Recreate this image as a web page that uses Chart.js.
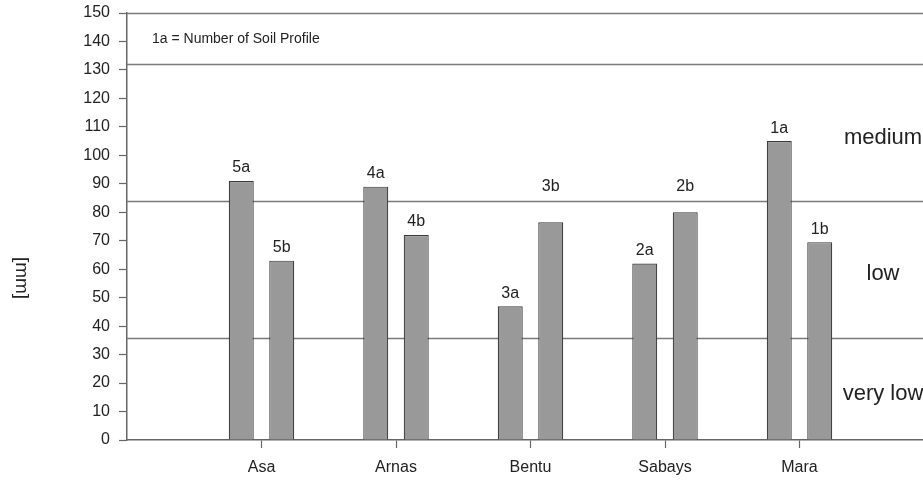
<!DOCTYPE html>
<html>
<head>
<meta charset="utf-8">
<script src="https://cdn.jsdelivr.net/npm/chart.js@4/dist/chart.umd.min.js"></script>
<style>
  html, body { margin: 0; padding: 0; background: #fff; overflow: hidden; }
  #wrap { width: 934px; height: 481px; }
</style>
</head>
<body>
<div id="wrap"><canvas id="c" width="934" height="481"></canvas></div>
<script>
// Study sites and their two soil profiles (a, b)
const sites = ['Asa', 'Arnas', 'Bentu', 'Sabays', 'Mara'];
const profilesA = ['5a', '4a', '3a', '2a', '1a'];
const profilesB = ['5b', '4b', '3b', '2b', '1b'];
const valuesA = [91, 89, 47, 62, 105];
const valuesB = [63, 72, 76.5, 80, 69.5];

// Class boundaries [mm] and class names
const classBreaks = [36, 84, 132];
const classNames = ['very low', 'low', 'medium'];
const yMin = 0, yMax = 150, yStep = 10;

const noteText = '1a = Number of Soil Profile';
const yTitle = '[mm]';

// category axis with an empty slot at each end
const axisLabels = [''].concat(sites, ['']);
const padded = arr => [null].concat(arr, [null]);

const FONT = '"Liberation Sans", Arial, Helvetica, sans-serif';
const TEXT = '#222';
const LINE = '#7a7a7a';
const AXIS = '#666';
const BAR_FILL = '#999999';
const BAR_EDGE = '#3a3a3a';

const overlay = {
  id: 'overlay',
  beforeDatasetsDraw(chart) {
    const { ctx, chartArea: a, scales: { y } } = chart;
    ctx.save();
    ctx.strokeStyle = LINE;
    ctx.lineWidth = 1.5;
    classBreaks.concat([yMax]).forEach(v => {
      const py = Math.round(y.getPixelForValue(v)) + 0.5;
      ctx.beginPath();
      ctx.moveTo(a.left, py);
      ctx.lineTo(a.right, py);
      ctx.stroke();
    });
    ctx.fillStyle = TEXT;
    // note in the top band
    ctx.font = '14px ' + FONT;
    ctx.textAlign = 'left';
    ctx.textBaseline = 'middle';
    const topMid = (classBreaks[2] + yMax) / 2;
    ctx.fillText(noteText, a.left + 25, y.getPixelForValue(topMid) + 1);
    // class names
    ctx.font = '22px ' + FONT;
    ctx.textAlign = 'center';
    const bounds = [yMin].concat(classBreaks);
    classNames.forEach((name, i) => {
      const mid = (bounds[i] + bounds[i + 1]) / 2;
      ctx.fillText(name, a.left + 756, y.getPixelForValue(mid) + 5);
    });
    // rotated axis title
    ctx.font = '19px ' + FONT;
    ctx.translate(21, a.bottom - 162);
    ctx.rotate(Math.PI / 2);
    ctx.fillText(yTitle, 0, 0);
    ctx.restore();
  },
  afterDatasetsDraw(chart) {
    const { ctx, scales: { y } } = chart;
    const breakPx = classBreaks.map(v => y.getPixelForValue(v));
    ctx.save();
    ctx.fillStyle = TEXT;
    ctx.font = '16px ' + FONT;
    ctx.textAlign = 'center';
    ctx.textBaseline = 'middle';
    chart.data.datasets.forEach((ds, di) => {
      const names = di === 0 ? profilesA : profilesB;
      chart.getDatasetMeta(di).data.forEach((bar, i) => {
        if (ds.data[i] == null) return;
        let ly = bar.y - 13;
        // lift a label clear of a class line it would sit on
        breakPx.forEach(bp => { if (Math.abs(ly - bp) < 9) ly = bp - 14; });
        ctx.fillText(names[i - 1], bar.x, ly);
      });
    });
    ctx.restore();
  }
};

const barStyle = {
  backgroundColor: BAR_FILL,
  borderColor: BAR_EDGE,
  borderWidth: 1.2,
  categoryPercentage: 0.602,
  barPercentage: 0.617
};

new Chart(document.getElementById('c'), {
  type: 'bar',
  data: {
    labels: axisLabels,
    datasets: [
      Object.assign({ label: 'a', data: padded(valuesA) }, barStyle),
      Object.assign({ label: 'b', data: padded(valuesB) }, barStyle)
    ]
  },
  options: {
    responsive: false,
    animation: false,
    layout: { padding: { top: 13, right: 0, left: 0, bottom: 0 } },
    plugins: { legend: { display: false }, tooltip: { enabled: false }, colors: { enabled: false } },
    scales: {
      x: {
        offset: false,
        afterFit: s => { s.height = 41; s.paddingLeft = 0; s.paddingRight = 0; },
        border: { color: AXIS, width: 1.5 },
        grid: {
          offset: false,
          drawOnChartArea: false,
          tickLength: 8,
          tickColor: c => (c.index === 0 || c.index === axisLabels.length - 1) ? 'rgba(0,0,0,0)' : AXIS,
          tickWidth: 1.2
        },
        ticks: { color: TEXT, font: { family: FONT, size: 16 }, padding: 10, maxRotation: 0, autoSkip: false }
      },
      y: {
        min: yMin, max: yMax,
        afterFit: s => { s.width = 127; s.paddingTop = 0; s.paddingBottom = 0; },
        border: { color: AXIS, width: 1.5 },
        grid: { drawOnChartArea: false, tickLength: 8, tickColor: AXIS, tickWidth: 1.2 },
        ticks: { stepSize: yStep, color: TEXT, font: { family: FONT, size: 16 }, padding: 9 }
      }
    }
  },
  plugins: [overlay]
});
</script>
</body>
</html>
